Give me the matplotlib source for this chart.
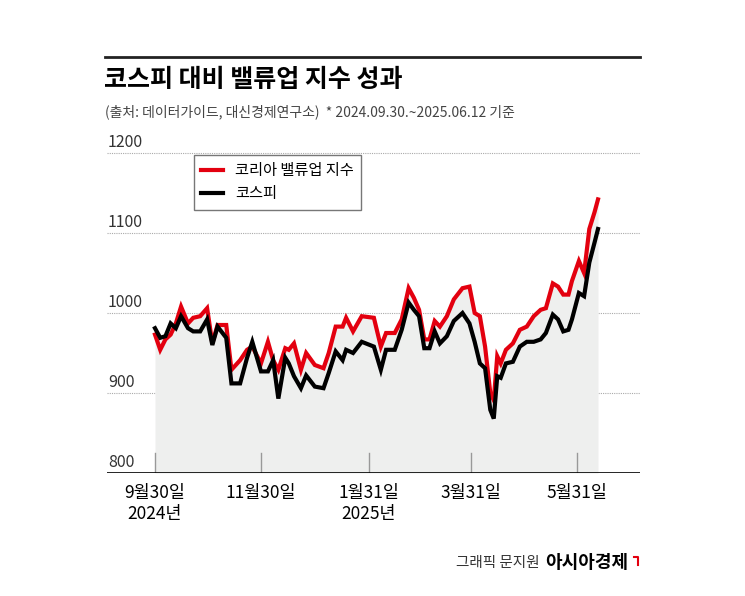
import matplotlib
matplotlib.use("Agg")
import matplotlib.pyplot as plt
from matplotlib.lines import Line2D
from matplotlib import font_manager
import numpy as np

names = {f.name for f in font_manager.fontManager.ttflist}
fam = next((n for n in ["Noto Sans CJK KR", "Noto Sans CJK JP", "Noto Sans CJK SC", "Noto Sans CJK TC"] if n in names), "DejaVu Sans")
plt.rcParams["font.family"] = fam

# day offsets from 2024-09-30
days = [0, 3, 6, 9, 12, 15, 19, 22, 26, 30, 33, 36, 41, 44, 49, 53, 56, 61, 65, 68, 71, 75, 77, 80, 84, 87, 92, 97, 100, 104, 108, 110, 114, 119, 126, 130, 133, 138, 142, 146, 149, 152, 155, 158, 161, 164, 168, 172, 177, 181, 184, 187, 190, 193, 195, 197, 199, 202, 206, 210, 214, 218, 222, 225, 229, 232, 235, 238, 240, 244, 247, 250, 253, 255]
valueup = [973, 954, 967, 973, 987, 1008, 987, 994, 996, 1006, 962, 985, 985, 929, 941, 954, 958, 937, 964, 941, 929, 956, 954, 962, 929, 950, 935, 931, 950, 983, 983, 994, 977, 996, 994, 958, 975, 975, 992, 1031, 1019, 1004, 967, 967, 990, 983, 996, 1017, 1031, 1033, 1000, 996, 958, 900, 891, 946, 937, 954, 962, 979, 983, 996, 1004, 1006, 1037, 1033, 1023, 1023, 1040, 1065, 1050, 1105, 1126, 1142]
kospi = [981, 969, 971, 987, 981, 996, 981, 977, 977, 992, 960, 983, 969, 912, 912, 944, 964, 927, 927, 941, 893, 944, 937, 921, 906, 922, 908, 906, 925, 952, 941, 954, 950, 964, 958, 929, 954, 954, 979, 1013, 1004, 996, 956, 956, 977, 962, 971, 990, 1000, 987, 964, 937, 931, 879, 868, 921, 919, 937, 939, 958, 964, 964, 967, 975, 998, 992, 977, 979, 992, 1025, 1021, 1063, 1088, 1105]
n = min(len(days), len(valueup), len(kospi))
days, valueup, kospi = days[:n], valueup[:n], kospi[:n]

tick_days = [0, 61, 123, 182, 243]
tick_labels = ["9월30일\n2024년", "11월30일", "1월31일\n2025년", "3월31일", "5월31일"]
y_ticks = [800, 900, 1000, 1100, 1200]

W, H = 745, 596
fig = plt.figure(figsize=(W/100, H/100), dpi=100)
ax = fig.add_axes([107/W, 1-473/H, (640-107)/W, (473-140)/H])
ppd = 443/255
ax.set_xlim(-48/ppd, 255+42/ppd)
ax.set_ylim(800, 800 + (473-140)/0.8)

x = np.array(days, float)
top = np.maximum(valueup, kospi)
ax.fill_between(x, 800, top, color="#eeefee", lw=0, zorder=1)
for yv in y_ticks[1:]:
    ax.axhline(yv, color="#aaaaaa", lw=0.8, ls=(0, (1, 1)), zorder=0)
for yv in y_ticks:
    ax.text(-48/ppd + 0.5, yv + 3, str(yv), fontsize=11.5, color="#333333", va="bottom", ha="left")
ax.plot(x, valueup, color="#e3000f", lw=3, zorder=2, solid_joinstyle="miter")
ax.plot(x, kospi, color="black", lw=3, zorder=3, solid_joinstyle="miter")
for t in tick_days:
    ax.plot([t, t], [800, 825], color="#999999", lw=1)
ax.axhline(800, color="black", lw=1.2)
ax.set_xticks(tick_days)
ax.set_xticklabels(tick_labels, fontsize=12.5, linespacing=1.2)
ax.tick_params(axis="x", length=0, pad=8)
ax.set_yticks([])
for s in ax.spines.values():
    s.set_visible(False)

leg = ax.legend([Line2D([], [], color="#e3000f", lw=3), Line2D([], [], color="black", lw=3)],
                ["코리아 밸류업 지수", "코스피"], loc="upper left",
                bbox_to_anchor=((186-107)/(640-107), 1-(147-140)/(473-140)),
                frameon=True, fancybox=False, edgecolor="#555555", fontsize=11,
                handlelength=1.4, borderpad=0.5, labelspacing=0.4)
leg.get_frame().set_linewidth(1)

fig.add_artist(Line2D([105/W, 640/W], [1-57/H, 1-57/H], color="#222222", lw=2))
fig.text(104/W, 1-80/H, "코스피 대비 밸류업 지수 성과", fontsize=18, fontweight="bold", va="center")
fig.text(105/W, 1-112/H, "(출처: 데이터가이드, 대신경제연구소)  * 2024.09.30.~2025.06.12 기준",
         fontsize=10, color="#444444", va="center")
fig.text(540/W, 1-563/H, "그래픽 문지원", fontsize=10.5, color="#333333", va="center", ha="right")
fig.text(545/W, 1-563/H, "아시아경제", fontsize=13, fontweight="bold", va="center", ha="left")
fig.add_artist(Line2D([634/W, 638/W, 638/W], [1-557/H, 1-557/H, 1-565/H], color="#e3000f", lw=1.5))
fig.savefig("out.png", dpi=100)
